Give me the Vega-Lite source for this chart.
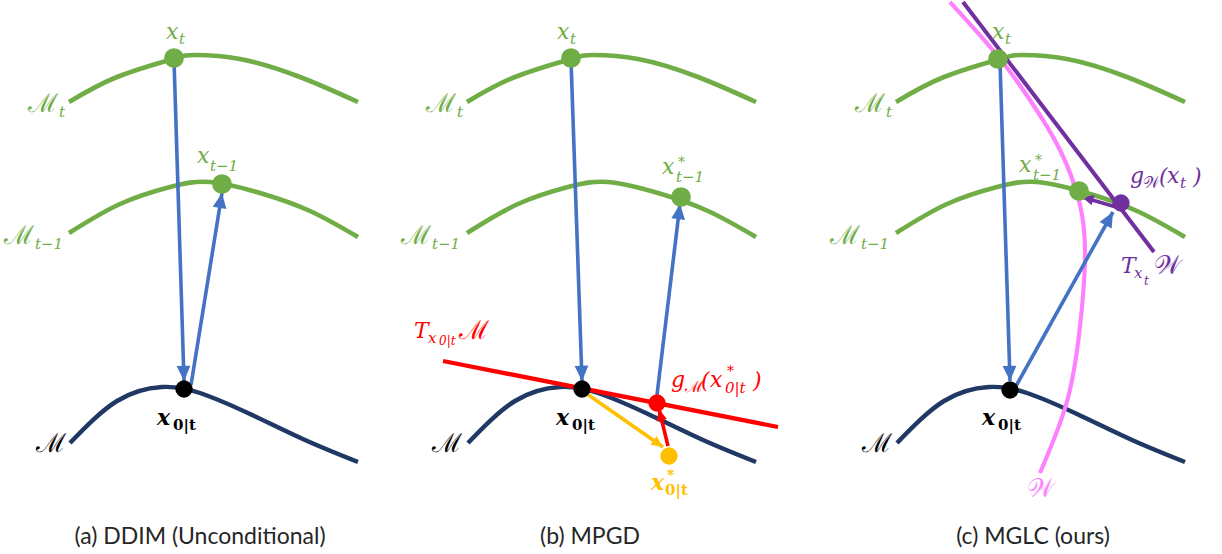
{
  "$schema": "https://vega.github.io/schema/vega-lite/v6.json",
  "width": 1222,
  "height": 554,
  "padding": 0,
  "autosize": {"type": "fit", "contains": "padding"},
  "background": "white",
  "config": {"view": {"stroke": null}},
  "datasets": {
    "curves": [
      {"id": "a_Mt", "key": "noisy", "i": 0, "x": 69, "y": 102},
      {"id": "a_Mt", "key": "noisy", "i": 1, "x": 117, "y": 77},
      {"id": "a_Mt", "key": "noisy", "i": 2, "x": 173, "y": 59},
      {"id": "a_Mt", "key": "noisy", "i": 3, "x": 195, "y": 55},
      {"id": "a_Mt", "key": "noisy", "i": 4, "x": 240, "y": 59},
      {"id": "a_Mt", "key": "noisy", "i": 5, "x": 300, "y": 77},
      {"id": "a_Mt", "key": "noisy", "i": 6, "x": 358, "y": 102},
      {"id": "a_Mt1", "key": "noisy", "i": 0, "x": 69, "y": 233},
      {"id": "a_Mt1", "key": "noisy", "i": 1, "x": 120, "y": 204},
      {"id": "a_Mt1", "key": "noisy", "i": 2, "x": 170, "y": 187},
      {"id": "a_Mt1", "key": "noisy", "i": 3, "x": 210, "y": 182},
      {"id": "a_Mt1", "key": "noisy", "i": 4, "x": 260, "y": 193},
      {"id": "a_Mt1", "key": "noisy", "i": 5, "x": 310, "y": 211},
      {"id": "a_Mt1", "key": "noisy", "i": 6, "x": 358, "y": 237},
      {"id": "a_M", "key": "clean", "i": 0, "x": 70, "y": 443},
      {"id": "a_M", "key": "clean", "i": 1, "x": 117, "y": 401},
      {"id": "a_M", "key": "clean", "i": 2, "x": 162, "y": 387},
      {"id": "a_M", "key": "clean", "i": 3, "x": 200, "y": 393},
      {"id": "a_M", "key": "clean", "i": 4, "x": 250, "y": 414},
      {"id": "a_M", "key": "clean", "i": 5, "x": 305, "y": 440},
      {"id": "a_M", "key": "clean", "i": 6, "x": 358, "y": 462},

      {"id": "b_Mt", "key": "noisy", "i": 0, "x": 467, "y": 102},
      {"id": "b_Mt", "key": "noisy", "i": 1, "x": 515, "y": 77},
      {"id": "b_Mt", "key": "noisy", "i": 2, "x": 571, "y": 59},
      {"id": "b_Mt", "key": "noisy", "i": 3, "x": 593, "y": 55},
      {"id": "b_Mt", "key": "noisy", "i": 4, "x": 638, "y": 59},
      {"id": "b_Mt", "key": "noisy", "i": 5, "x": 698, "y": 77},
      {"id": "b_Mt", "key": "noisy", "i": 6, "x": 756, "y": 102},
      {"id": "b_Mt1", "key": "noisy", "i": 0, "x": 467, "y": 233},
      {"id": "b_Mt1", "key": "noisy", "i": 1, "x": 518, "y": 204},
      {"id": "b_Mt1", "key": "noisy", "i": 2, "x": 568, "y": 187},
      {"id": "b_Mt1", "key": "noisy", "i": 3, "x": 608, "y": 182},
      {"id": "b_Mt1", "key": "noisy", "i": 4, "x": 658, "y": 193},
      {"id": "b_Mt1", "key": "noisy", "i": 5, "x": 708, "y": 211},
      {"id": "b_Mt1", "key": "noisy", "i": 6, "x": 756, "y": 237},
      {"id": "b_M", "key": "clean", "i": 0, "x": 468, "y": 443},
      {"id": "b_M", "key": "clean", "i": 1, "x": 515, "y": 401},
      {"id": "b_M", "key": "clean", "i": 2, "x": 560, "y": 387},
      {"id": "b_M", "key": "clean", "i": 3, "x": 598, "y": 393},
      {"id": "b_M", "key": "clean", "i": 4, "x": 648, "y": 414},
      {"id": "b_M", "key": "clean", "i": 5, "x": 703, "y": 440},
      {"id": "b_M", "key": "clean", "i": 6, "x": 756, "y": 462},
      {"id": "b_TM", "key": "tangentM", "i": 0, "x": 443, "y": 361},
      {"id": "b_TM", "key": "tangentM", "i": 1, "x": 778, "y": 427},

      {"id": "c_Mt", "key": "noisy", "i": 0, "x": 896, "y": 102},
      {"id": "c_Mt", "key": "noisy", "i": 1, "x": 944, "y": 77},
      {"id": "c_Mt", "key": "noisy", "i": 2, "x": 1000, "y": 59},
      {"id": "c_Mt", "key": "noisy", "i": 3, "x": 1022, "y": 55},
      {"id": "c_Mt", "key": "noisy", "i": 4, "x": 1067, "y": 59},
      {"id": "c_Mt", "key": "noisy", "i": 5, "x": 1127, "y": 77},
      {"id": "c_Mt", "key": "noisy", "i": 6, "x": 1185, "y": 102},
      {"id": "c_Mt1", "key": "noisy", "i": 0, "x": 896, "y": 233},
      {"id": "c_Mt1", "key": "noisy", "i": 1, "x": 947, "y": 204},
      {"id": "c_Mt1", "key": "noisy", "i": 2, "x": 997, "y": 187},
      {"id": "c_Mt1", "key": "noisy", "i": 3, "x": 1037, "y": 182},
      {"id": "c_Mt1", "key": "noisy", "i": 4, "x": 1087, "y": 193},
      {"id": "c_Mt1", "key": "noisy", "i": 5, "x": 1137, "y": 211},
      {"id": "c_Mt1", "key": "noisy", "i": 6, "x": 1185, "y": 237},
      {"id": "c_M", "key": "clean", "i": 0, "x": 897, "y": 443},
      {"id": "c_M", "key": "clean", "i": 1, "x": 944, "y": 401},
      {"id": "c_M", "key": "clean", "i": 2, "x": 989, "y": 387},
      {"id": "c_M", "key": "clean", "i": 3, "x": 1027, "y": 393},
      {"id": "c_M", "key": "clean", "i": 4, "x": 1077, "y": 414},
      {"id": "c_M", "key": "clean", "i": 5, "x": 1132, "y": 440},
      {"id": "c_M", "key": "clean", "i": 6, "x": 1185, "y": 462},
      {"id": "c_W", "key": "W", "i": 0, "x": 950, "y": 2},
      {"id": "c_W", "key": "W", "i": 1, "x": 997, "y": 55},
      {"id": "c_W", "key": "W", "i": 2, "x": 1030, "y": 100},
      {"id": "c_W", "key": "W", "i": 3, "x": 1060, "y": 150},
      {"id": "c_W", "key": "W", "i": 4, "x": 1080, "y": 205},
      {"id": "c_W", "key": "W", "i": 5, "x": 1085, "y": 260},
      {"id": "c_W", "key": "W", "i": 6, "x": 1079, "y": 335},
      {"id": "c_W", "key": "W", "i": 7, "x": 1066, "y": 405},
      {"id": "c_W", "key": "W", "i": 8, "x": 1040, "y": 473},
      {"id": "c_TW", "key": "tangentW", "i": 0, "x": 963, "y": 2},
      {"id": "c_TW", "key": "tangentW", "i": 1, "x": 1154, "y": 252}
    ],
    "arrows": [
      {"key": "step", "head": "big", "x": 174, "y": 60, "x2": 184, "y2": 381},
      {"key": "step", "head": "big", "x": 191, "y": 385, "x2": 222, "y2": 193},
      {"key": "step", "head": "big", "x": 571, "y": 60, "x2": 582, "y2": 381},
      {"key": "step", "head": "big", "x": 657, "y": 395, "x2": 680, "y2": 204},
      {"key": "guided", "head": "small", "x": 587, "y": 394, "x2": 663, "y2": 447},
      {"key": "tangentM", "head": "small", "x": 668, "y": 446, "x2": 659, "y2": 409},
      {"key": "step", "head": "big", "x": 1000, "y": 62, "x2": 1010, "y2": 381},
      {"key": "step", "head": "big", "x": 1016, "y": 386, "x2": 1113, "y2": 212},
      {"key": "tangentW", "head": "small", "x": 1116, "y": 207, "x2": 1082, "y2": 197}
    ],
    "points": [
      {"key": "noisy", "dot": "big", "x": 174, "y": 58},
      {"key": "noisy", "dot": "big", "x": 222, "y": 184},
      {"key": "est", "dot": "small", "x": 184, "y": 389},
      {"key": "noisy", "dot": "big", "x": 571, "y": 58},
      {"key": "noisy", "dot": "big", "x": 681, "y": 197},
      {"key": "est", "dot": "small", "x": 582, "y": 389},
      {"key": "tangentM", "dot": "small", "x": 657, "y": 403},
      {"key": "guided", "dot": "small", "x": 669, "y": 456},
      {"key": "noisy", "dot": "big", "x": 998, "y": 59},
      {"key": "noisy", "dot": "big", "x": 1079, "y": 191},
      {"key": "est", "dot": "small", "x": 1010, "y": 390},
      {"key": "tangentW", "dot": "small", "x": 1121, "y": 203}
    ],
    "labels": [
      {"kind": "main", "key": "noisy", "t": "x", "x": 166, "y": 32},
      {"kind": "sub", "key": "noisy", "t": "t", "x": 179, "y": 39},
      {"kind": "script", "key": "noisy", "t": "ℳ", "x": 28, "y": 104},
      {"kind": "sub", "key": "noisy", "t": "t", "x": 59, "y": 112},
      {"kind": "main", "key": "noisy", "t": "x", "x": 197, "y": 156},
      {"kind": "sub", "key": "noisy", "t": "t−1", "x": 210, "y": 166},
      {"kind": "script", "key": "noisy", "t": "ℳ", "x": 4, "y": 236},
      {"kind": "sub", "key": "noisy", "t": "t−1", "x": 35, "y": 244},
      {"kind": "script", "key": "est", "t": "ℳ", "x": 36, "y": 444},
      {"kind": "bold", "key": "est", "t": "x", "x": 157, "y": 418},
      {"kind": "boldsub", "key": "est", "t": "0|t", "x": 173, "y": 425},

      {"kind": "main", "key": "noisy", "t": "x", "x": 557, "y": 32},
      {"kind": "sub", "key": "noisy", "t": "t", "x": 570, "y": 39},
      {"kind": "script", "key": "noisy", "t": "ℳ", "x": 426, "y": 104},
      {"kind": "sub", "key": "noisy", "t": "t", "x": 457, "y": 112},
      {"kind": "main", "key": "noisy", "t": "x", "x": 662, "y": 167},
      {"kind": "sup", "key": "noisy", "t": "*", "x": 678, "y": 163},
      {"kind": "sub", "key": "noisy", "t": "t−1", "x": 676, "y": 177},
      {"kind": "script", "key": "noisy", "t": "ℳ", "x": 401, "y": 236},
      {"kind": "sub", "key": "noisy", "t": "t−1", "x": 432, "y": 244},
      {"kind": "main", "key": "tangentM", "t": "T", "x": 414, "y": 331},
      {"kind": "sub", "key": "tangentM", "t": "x", "x": 428, "y": 338},
      {"kind": "subsub", "key": "tangentM", "t": "0|t", "x": 439, "y": 341},
      {"kind": "script", "key": "tangentM", "t": "ℳ", "x": 459, "y": 331},
      {"kind": "main", "key": "tangentM", "t": "g", "x": 671, "y": 380},
      {"kind": "scriptsub", "key": "tangentM", "t": "ℳ", "x": 685, "y": 387},
      {"kind": "main", "key": "tangentM", "t": "(", "x": 701, "y": 381},
      {"kind": "main", "key": "tangentM", "t": "x", "x": 710, "y": 380},
      {"kind": "sup", "key": "tangentM", "t": "*", "x": 727, "y": 372},
      {"kind": "sub", "key": "tangentM", "t": "0|t", "x": 725, "y": 388},
      {"kind": "main", "key": "tangentM", "t": ")", "x": 753, "y": 381},
      {"kind": "bold", "key": "guided", "t": "x", "x": 651, "y": 483},
      {"kind": "boldsup", "key": "guided", "t": "*", "x": 667, "y": 476},
      {"kind": "boldsub", "key": "guided", "t": "0|t", "x": 665, "y": 490},
      {"kind": "script", "key": "est", "t": "ℳ", "x": 432, "y": 444},
      {"kind": "bold", "key": "est", "t": "x", "x": 556, "y": 418},
      {"kind": "boldsub", "key": "est", "t": "0|t", "x": 572, "y": 425},

      {"kind": "main", "key": "noisy", "t": "x", "x": 992, "y": 32},
      {"kind": "sub", "key": "noisy", "t": "t", "x": 1005, "y": 39},
      {"kind": "script", "key": "noisy", "t": "ℳ", "x": 855, "y": 104},
      {"kind": "sub", "key": "noisy", "t": "t", "x": 886, "y": 112},
      {"kind": "main", "key": "noisy", "t": "x", "x": 1019, "y": 165},
      {"kind": "sup", "key": "noisy", "t": "*", "x": 1035, "y": 161},
      {"kind": "sub", "key": "noisy", "t": "t−1", "x": 1033, "y": 175},
      {"kind": "script", "key": "noisy", "t": "ℳ", "x": 830, "y": 236},
      {"kind": "sub", "key": "noisy", "t": "t−1", "x": 861, "y": 244},
      {"kind": "main", "key": "tangentW", "t": "g", "x": 1130, "y": 176},
      {"kind": "scriptsub", "key": "tangentW", "t": "𝒲", "x": 1143, "y": 183},
      {"kind": "main", "key": "tangentW", "t": "(", "x": 1159, "y": 177},
      {"kind": "main", "key": "tangentW", "t": "x", "x": 1167, "y": 176},
      {"kind": "sub", "key": "tangentW", "t": "t", "x": 1180, "y": 183},
      {"kind": "main", "key": "tangentW", "t": ")", "x": 1193, "y": 177},
      {"kind": "main", "key": "tangentW", "t": "T", "x": 1121, "y": 266},
      {"kind": "sub", "key": "tangentW", "t": "x", "x": 1134, "y": 273},
      {"kind": "subsub", "key": "tangentW", "t": "t", "x": 1144, "y": 281},
      {"kind": "script", "key": "tangentW", "t": "𝒲", "x": 1154, "y": 266},
      {"kind": "script", "key": "W", "t": "𝒲", "x": 1027, "y": 489},
      {"kind": "script", "key": "est", "t": "ℳ", "x": 862, "y": 444},
      {"kind": "bold", "key": "est", "t": "x", "x": 982, "y": 418},
      {"kind": "boldsub", "key": "est", "t": "0|t", "x": 998, "y": 425}
    ],
    "captions": [
      {"t": "(a) DDIM (Unconditional)", "x": 200, "y": 537},
      {"t": "(b) MPGD", "x": 590, "y": 537},
      {"t": "(c) MGLC (ours)", "x": 1033, "y": 537}
    ]
  },
  "encoding": {
    "x": {"field": "x", "type": "quantitative", "scale": {"domain": [0, 1222], "nice": false, "zero": false}, "axis": null},
    "y": {"field": "y", "type": "quantitative", "scale": {"domain": [0, 554], "nice": false, "zero": false, "reverse": true}, "axis": null},
    "color": {
      "field": "key", "type": "nominal", "legend": null,
      "scale": {
        "domain": ["noisy", "clean", "est", "tangentM", "W", "tangentW", "step", "guided"],
        "range": ["#70AD47", "#1F3864", "#000000", "#FF0000", "#FF80FF", "#7030A0", "#4472C4", "#FFC000"]
      }
    }
  },
  "layer": [
    {
      "data": {"name": "curves"},
      "mark": {"type": "line", "interpolate": "natural", "strokeCap": "butt", "clip": true},
      "encoding": {
        "detail": {"field": "id"},
        "order": {"field": "i", "type": "quantitative"},
        "strokeWidth": {
          "field": "key", "type": "nominal", "legend": null,
          "scale": {"domain": ["noisy", "clean", "tangentM", "W", "tangentW"], "range": [4.6, 4, 3.8, 3.8, 3.5]}
        }
      }
    },
    {
      "data": {"name": "arrows"},
      "mark": {"type": "rule", "strokeWidth": 3.6},
      "encoding": {
        "x2": {"field": "x2"},
        "y2": {"field": "y2"}
      }
    },
    {
      "data": {"name": "arrows"},
      "transform": [
        {"calculate": "atan2(datum.x2 - datum.x, -(datum.y2 - datum.y)) * 180 / PI", "as": "ang"}
      ],
      "mark": {"type": "point", "shape": "M0,0L-1,2.2L1,2.2Z", "filled": true, "opacity": 1},
      "encoding": {
        "x": {"field": "x2", "type": "quantitative"},
        "y": {"field": "y2", "type": "quantitative"},
        "angle": {"field": "ang", "type": "quantitative", "scale": null},
        "size": {"field": "head", "type": "nominal", "legend": null, "scale": {"domain": ["big", "small"], "range": [190, 110]}}
      }
    },
    {
      "data": {"name": "points"},
      "transform": [{"filter": "datum.dot === 'big'"}],
      "mark": {"type": "circle", "size": 390, "opacity": 1}
    },
    {
      "data": {"name": "points"},
      "transform": [{"filter": "datum.dot === 'small'"}],
      "mark": {"type": "circle", "size": 300, "opacity": 1}
    },
    {
      "data": {"name": "labels"},
      "transform": [{"filter": "datum.kind === 'main'"}],
      "mark": {"type": "text", "align": "left", "baseline": "middle", "font": "DejaVu Serif", "fontStyle": "italic", "fontSize": 22},
      "encoding": {"text": {"field": "t"}}
    },
    {
      "data": {"name": "labels"},
      "transform": [{"filter": "datum.kind === 'sub'"}],
      "mark": {"type": "text", "align": "left", "baseline": "middle", "font": "DejaVu Serif", "fontStyle": "italic", "fontSize": 15},
      "encoding": {"text": {"field": "t"}}
    },
    {
      "data": {"name": "labels"},
      "transform": [{"filter": "datum.kind === 'subsub'"}],
      "mark": {"type": "text", "align": "left", "baseline": "middle", "font": "DejaVu Serif", "fontStyle": "italic", "fontSize": 12},
      "encoding": {"text": {"field": "t"}}
    },
    {
      "data": {"name": "labels"},
      "transform": [{"filter": "datum.kind === 'sup'"}],
      "mark": {"type": "text", "align": "left", "baseline": "middle", "font": "DejaVu Serif", "fontSize": 14},
      "encoding": {"text": {"field": "t"}}
    },
    {
      "data": {"name": "labels"},
      "transform": [{"filter": "datum.kind === 'script'"}],
      "mark": {"type": "text", "align": "left", "baseline": "middle", "font": "DejaVu Serif", "fontSize": 26},
      "encoding": {"text": {"field": "t"}}
    },
    {
      "data": {"name": "labels"},
      "transform": [{"filter": "datum.kind === 'scriptsub'"}],
      "mark": {"type": "text", "align": "left", "baseline": "middle", "font": "DejaVu Serif", "fontSize": 16},
      "encoding": {"text": {"field": "t"}}
    },
    {
      "data": {"name": "labels"},
      "transform": [{"filter": "datum.kind === 'bold'"}],
      "mark": {"type": "text", "align": "left", "baseline": "middle", "font": "DejaVu Serif", "fontStyle": "italic", "fontWeight": "bold", "fontSize": 22},
      "encoding": {"text": {"field": "t"}}
    },
    {
      "data": {"name": "labels"},
      "transform": [{"filter": "datum.kind === 'boldsub'"}],
      "mark": {"type": "text", "align": "left", "baseline": "middle", "font": "DejaVu Serif", "fontWeight": "bold", "fontSize": 15},
      "encoding": {"text": {"field": "t"}}
    },
    {
      "data": {"name": "labels"},
      "transform": [{"filter": "datum.kind === 'boldsup'"}],
      "mark": {"type": "text", "align": "left", "baseline": "middle", "font": "DejaVu Serif", "fontWeight": "bold", "fontSize": 14},
      "encoding": {"text": {"field": "t"}}
    },
    {
      "data": {"name": "captions"},
      "mark": {"type": "text", "align": "center", "baseline": "middle", "font": "Lato", "fontSize": 23},
      "encoding": {"text": {"field": "t"}, "color": {"value": "#262626"}}
    }
  ]
}
